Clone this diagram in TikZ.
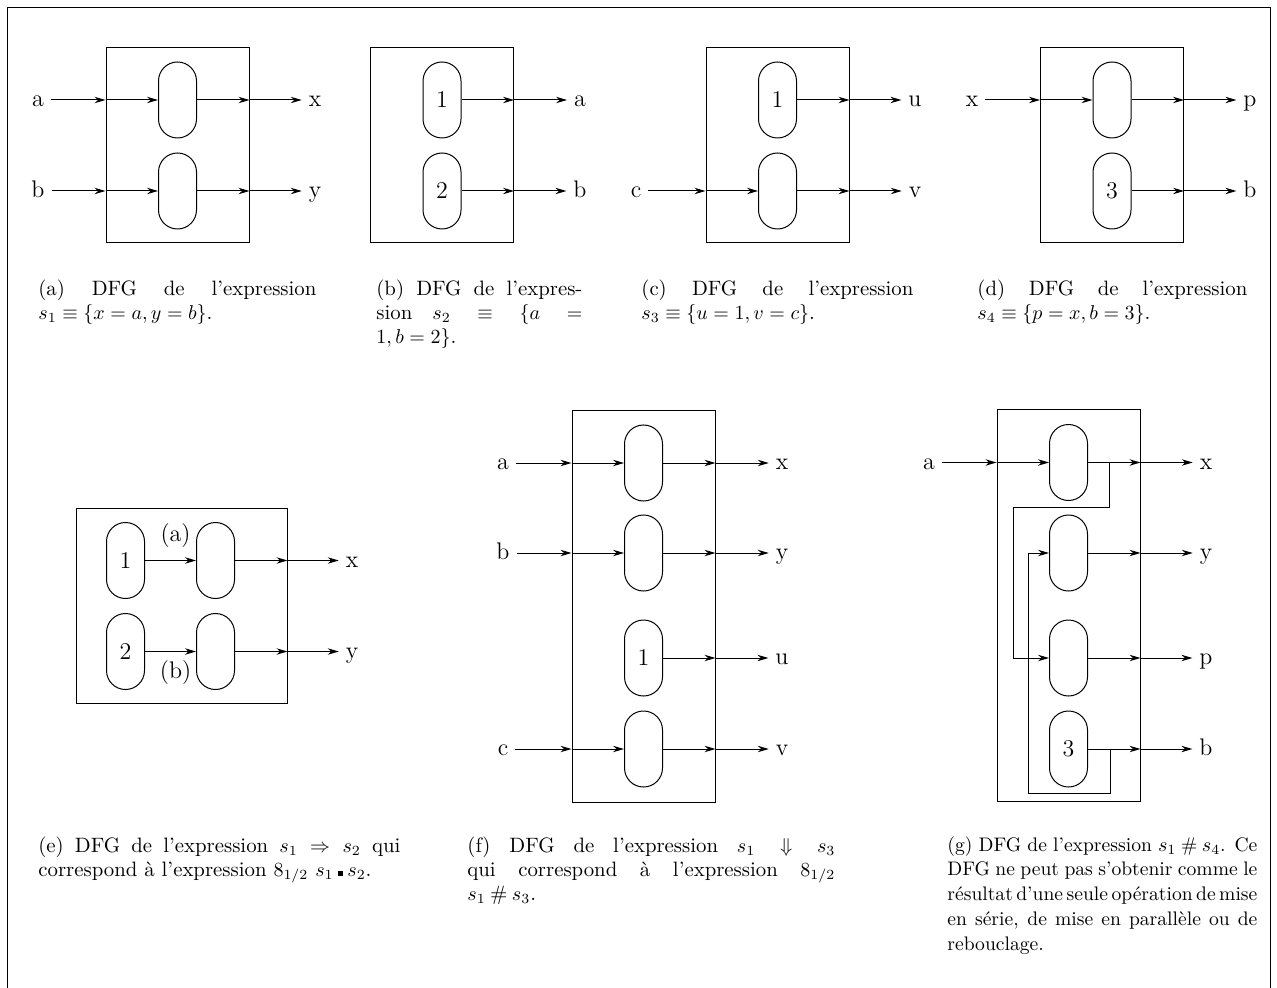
\documentclass[tikz,border=0pt]{standalone}
\usepackage{fontspec}
\usetikzlibrary{arrows.meta}

\begin{document}
\begin{tikzpicture}[x=0.5pt,y=-0.5pt,
  >={Stealth[length=5.5pt,width=3.2pt]},
  wire/.style={->,line width=.5pt},
  pill/.style={draw,line width=.5pt,rounded corners=9.5pt,minimum width=19pt,minimum height=38pt,inner sep=0pt,font=\large},
  frame/.style={draw,line width=.5pt,minimum width=71.5pt,minimum height=97.5pt,inner sep=0pt},
  var/.style={font=\large,text height=1.6ex,text depth=0pt},
  caption/.style={anchor=north west,inner sep=0pt,align=justify,font=\fontsize{10.4}{12}\selectfont},
]
  \useasboundingbox (0,0) rectangle (1277,988);
  \draw[line width=.5pt] (7,8) rectangle (1270,1000);

  % (a) s1
  \node[frame] (A) at (177.5,145.5) {};
  \node[pill] (a1) at (177.5,100) {};
  \node[pill] (a2) at (177.5,191) {};
  \node[var] (aa) at (38,100) {a};
  \node[var] (ab) at (38,191) {b};
  \node[var] (ax) at (315,100) {x};
  \node[var] (ay) at (315,191) {y};
  \draw[wire] (aa) -- (aa -| A.west);
  \draw[wire] (aa -| A.west) -- (a1.west);
  \draw[wire] (a1.east) -- (a1 -| A.east);
  \draw[wire] (a1 -| A.east) -- (ax);
  \draw[wire] (ab) -- (ab -| A.west);
  \draw[wire] (ab -| A.west) -- (a2.west);
  \draw[wire] (a2.east) -- (a2 -| A.east);
  \draw[wire] (a2 -| A.east) -- (ay);
  \node[caption,text width=139pt] (capa) at (38,280)
    {(a) DFG de l'expression\linebreak $s_1\equiv\{x=a,y=b\}$.};

  % (b) s2
  \node[frame] (B) at (442,145.5) {};
  \node[pill] (b1) at (442,100) {1};
  \node[pill] (b2) at (442,191) {2};
  \node[var] (ba) at (580,100) {a};
  \node[var] (bb) at (580,191) {b};
  \draw[wire] (b1.east) -- (b1 -| B.east);
  \draw[wire] (b1 -| B.east) -- (ba);
  \draw[wire] (b2.east) -- (b2 -| B.east);
  \draw[wire] (b2 -| B.east) -- (bb);
  \node[caption,text width=103pt] (capb) at (376,280)
    {(b) DFG de l'expres-\linebreak sion $s_2\equiv\{a=$\linebreak $1,b=2\}$.};

  % (c) s3
  \node[frame] (C) at (777.5,145.5) {};
  \node[pill] (c1) at (777.5,100) {1};
  \node[pill] (c2) at (777.5,191) {};
  \node[var] (cc) at (636,191) {c};
  \node[var] (cu) at (915,100) {u};
  \node[var] (cv) at (915,191) {v};
  \draw[wire] (c1.east) -- (c1 -| C.east);
  \draw[wire] (c1 -| C.east) -- (cu);
  \draw[wire] (cc) -- (cc -| C.west);
  \draw[wire] (cc -| C.west) -- (c2.west);
  \draw[wire] (c2.east) -- (c2 -| C.east);
  \draw[wire] (c2 -| C.east) -- (cv);
  \node[caption,text width=136pt] (capc) at (641,280)
    {(c) DFG de l'expression\linebreak $s_3\equiv\{u=1,v=c\}$.};

  % (d) s4
  \node[frame] (D) at (1112,145.5) {};
  \node[pill] (d1) at (1112,100) {};
  \node[pill] (d2) at (1112,191) {3};
  \node[var] (dx) at (972,100) {x};
  \node[var] (dp) at (1250,100) {p};
  \node[var] (db) at (1250,191) {b};
  \draw[wire] (dx) -- (dx -| D.west);
  \draw[wire] (dx -| D.west) -- (d1.west);
  \draw[wire] (d1.east) -- (d1 -| D.east);
  \draw[wire] (d1 -| D.east) -- (dp);
  \draw[wire] (d2.east) -- (d2 -| D.east);
  \draw[wire] (d2 -| D.east) -- (db);
  \node[caption,text width=135pt] (capd) at (977,280)
    {(d) DFG de l'expression\linebreak $s_4\equiv\{p=x,b=3\}$.};

  % (e) s1 => s2
  \node[frame,minimum width=105.5pt] (E) at (181.5,605.5) {};
  \node[pill] (e1) at (125.5,560.5) {1};
  \node[pill] (e2) at (125.5,651.5) {2};
  \node[pill] (e3) at (215.5,560.5) {};
  \node[pill] (e4) at (215.5,651.5) {};
  \node[var] (ex) at (352,560.5) {x};
  \node[var] (ey) at (352,651.5) {y};
  \draw[wire] (e1.east) -- node[above=3pt,pos=.6,font=\large] {(a)} (e3.west);
  \draw[wire] (e2.east) -- node[below=1pt,pos=.6,font=\large] {(b)} (e4.west);
  \draw[wire] (e3.east) -- (e3 -| E.east);
  \draw[wire] (e3 -| E.east) -- (ex);
  \draw[wire] (e4.east) -- (e4 -| E.east);
  \draw[wire] (e4 -| E.east) -- (ey);
  \node[caption,text width=181pt] (cape) at (38,836)
    {(e) DFG de l'expression $s_1\Rightarrow s_2$ qui\linebreak
     correspond à l'expression $8_{1/2}$ $s_1\mathbin{\rule{2.4pt}{2.6pt}}s_2$.};

  % (f) s1 || s3
  \node[frame,minimum height=196pt] (F) at (643.5,606) {};
  \node[pill] (f1) at (643.5,463) {};
  \node[pill] (f2) at (643.5,553) {};
  \node[pill] (f3) at (643.5,658) {1};
  \node[pill] (f4) at (643.5,749) {};
  \node[var] (fa) at (503,463) {a};
  \node[var] (fb) at (503,553) {b};
  \node[var] (fc) at (503,749) {c};
  \node[var] (fx) at (782,463) {x};
  \node[var] (fy) at (782,553) {y};
  \node[var] (fu) at (782,658) {u};
  \node[var] (fv) at (782,749) {v};
  \draw[wire] (fa) -- (fa -| F.west);
  \draw[wire] (fa -| F.west) -- (f1.west);
  \draw[wire] (fb) -- (fb -| F.west);
  \draw[wire] (fb -| F.west) -- (f2.west);
  \draw[wire] (fc) -- (fc -| F.west);
  \draw[wire] (fc -| F.west) -- (f4.west);
  \draw[wire] (f1.east) -- (f1 -| F.east);
  \draw[wire] (f1 -| F.east) -- (fx);
  \draw[wire] (f2.east) -- (f2 -| F.east);
  \draw[wire] (f2 -| F.east) -- (fy);
  \draw[wire] (f3.east) -- (f3 -| F.east);
  \draw[wire] (f3 -| F.east) -- (fu);
  \draw[wire] (f4.east) -- (f4 -| F.east);
  \draw[wire] (f4 -| F.east) -- (fv);
  \node[caption,text width=184pt] (capf) at (467,836)
    {(f) DFG de l'expression $s_1\Downarrow s_3$\linebreak
     qui correspond à l'expression $8_{1/2}$\linebreak
     $s_1\mathbin{\#}s_3$.};

  % (g) s1 # s4
  \node[frame,minimum height=196pt] (G) at (1068.5,605.5) {};
  \node[pill] (g1) at (1068.5,462.5) {};
  \node[pill] (g2) at (1068.5,553) {};
  \node[pill] (g3) at (1068.5,658) {};
  \node[pill] (g4) at (1068.5,749) {3};
  \node[var] (ga) at (929,462.5) {a};
  \node[var] (gx) at (1206,462.5) {x};
  \node[var] (gy) at (1206,553) {y};
  \node[var] (gp) at (1206,658) {p};
  \node[var] (gb) at (1206,749) {b};
  \draw[wire] (ga) -- (ga -| G.west);
  \draw[wire] (ga -| G.west) -- (g1.west);
  \draw[wire] (g1.east) -- (g1 -| G.east);
  \draw[wire] (g1 -| G.east) -- (gx);
  \draw[wire] (g2.east) -- (g2 -| G.east);
  \draw[wire] (g2 -| G.east) -- (gy);
  \draw[wire] (g3.east) -- (g3 -| G.east);
  \draw[wire] (g3 -| G.east) -- (gp);
  \draw[wire] (g4.east) -- (g4 -| G.east);
  \draw[wire] (g4 -| G.east) -- (gb);
  % feedback wires
  \coordinate (k1) at (1109.5,462.5);
  \coordinate (k2) at (1013,507.5);
  \coordinate (k3) at (1110,749);
  \coordinate (k4) at (1028,793.5);
  \draw[wire] (k1) |- (k2) |- (g3.west);
  \draw[wire] (k3) |- (k4) |- (g2.west);
  \node[caption,text width=155pt,font=\fontsize{9.8}{12.4}\selectfont] (capg) at (947,836)
    {\spaceskip=.3em plus .3em minus .15em
     (g) DFG de l'expression $s_1\mathbin{\#}s_4$. Ce\linebreak
     DFG ne peut pas s'obtenir comme le\linebreak
     résultat d'une seule opération de mise\linebreak
     en série, de mise en parallèle ou de\linebreak
     rebouclage.};
\end{tikzpicture}
\end{document}
